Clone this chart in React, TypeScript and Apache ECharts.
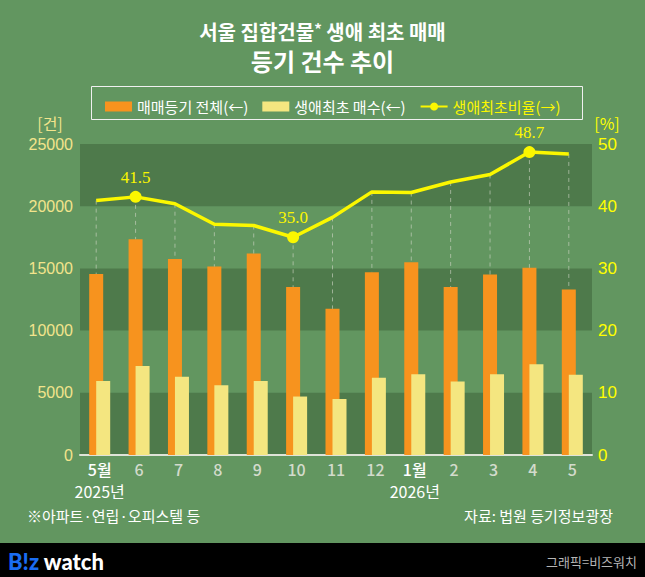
import React, { useEffect, useRef } from "react";
import * as echarts from "echarts";

const categories = ["5월", "6", "7", "8", "9", "10", "11", "12", "1월", "2", "3", "4", "5"];
const yearLabels = ["2025년", "", "", "", "", "", "", "", "2026년", "", "", "", ""];
const totalDeals = [14550, 17350, 15750, 15150, 16200, 13500, 11750, 14700, 15500, 13500, 14500, 15050, 13300];
const firstBuyers = [5950, 7150, 6300, 5600, 5950, 4700, 4500, 6200, 6500, 5900, 6500, 7300, 6450];
const firstRate = [40.9, 41.5, 40.4, 37.1, 36.9, 35.0, 38.2, 42.3, 42.2, 43.9, 45.1, 48.7, 48.4];
const labeledPoints = [1, 5, 11];

const leftMax = 25000;
const leftInterval = 5000;
const rightMax = 50;
const rightInterval = 10;

const seriesNames = ["매매등기 전체(←)", "생애최초 매수(←)", "생애최초비율(→)"];

const FONT = "'Noto Sans CJK KR', 'Noto Sans', sans-serif";
const BG = "#629660";
const DARK = "#4e7a4b";
const ORANGE = "#f7931e";
const CREAM = "#f4e680";
const YELLOW = "#fbf700";

export default function App() {
  const ref = useRef<HTMLDivElement>(null);
  useEffect(() => {
    if (!ref.current) return;
    const chart = echarts.init(ref.current, null, { renderer: "svg" });
    const gridTop = 144;
    const gridBottom = 122;
    chart.setOption({
      animation: false,
      backgroundColor: BG,
      textStyle: { fontFamily: FONT },
      grid: [
        { left: 80, right: 53, top: gridTop, bottom: gridBottom },
        { left: 76.5, right: 56.5, top: gridTop, bottom: gridBottom },
      ],
      legend: {
        left: 100,
        top: 94,
        itemGap: 14,
        itemWidth: 27,
        itemHeight: 10,
        textStyle: { fontSize: 15, color: "#fff", fontFamily: FONT },
        data: [
          { name: seriesNames[0], icon: "rect", textStyle: { color: "#fff" } },
          { name: seriesNames[1], icon: "rect", textStyle: { color: "#fff" } },
          { name: seriesNames[2], textStyle: { color: YELLOW } },
        ],
      },
      xAxis: [
        {
          type: "category",
          gridIndex: 0,
          data: categories,
          axisTick: { show: false },
          axisLine: { lineStyle: { color: "#dfe3d8", width: 2 } },
          axisLabel: {
            margin: 5,
            interval: 0,
            lineHeight: 17,
            fontSize: 16,
            fontFamily: FONT,
            color: (v: string) => (v.indexOf("월") >= 0 ? "#fff" : "#d3dbcc"),
            fontWeight: 500,
          },
          splitLine: { show: false },
        },
        {
          type: "category",
          gridIndex: 1,
          data: categories,
          show: false,
        },
        {
          type: "category",
          gridIndex: 0,
          position: "bottom",
          offset: 25,
          data: categories,
          axisLine: { show: false },
          axisTick: { show: false },
          splitLine: { show: false },
          axisLabel: {
            margin: 2,
            interval: 0,
            lineHeight: 17,
            fontSize: 16,
            color: "#fff",
            fontFamily: FONT,
            formatter: (v: string, i: number) => yearLabels[i],
          },
        },
      ],
      yAxis: [
        {
          type: "value",
          gridIndex: 0,
          min: 0,
          max: leftMax,
          interval: leftInterval,
          axisLine: { show: false },
          axisTick: { show: false },
          splitLine: { show: false },
          splitArea: { show: true, areaStyle: { color: [DARK, "rgba(0,0,0,0)"] } },
          axisLabel: {
            color: "#f2e48c",
            fontSize: 16,
            margin: 7,
            fontFamily: "'Liberation Sans', sans-serif",
            formatter: (v: number) => String(v),
          },
        },
        {
          type: "value",
          gridIndex: 0,
          position: "right",
          min: 0,
          max: rightMax,
          interval: rightInterval,
          axisLine: { show: false },
          axisTick: { show: false },
          splitLine: { show: false },
          axisLabel: { color: "#ffff00", fontSize: 17, margin: 6, fontFamily: "'Liberation Sans', sans-serif" },
        },
        {
          type: "value",
          gridIndex: 1,
          min: 0,
          max: rightMax,
          show: false,
          splitLine: { show: false },
        },
      ],
      series: [
        {
          name: seriesNames[0],
          type: "bar",
          xAxisIndex: 0,
          yAxisIndex: 0,
          data: totalDeals,
          barWidth: 14,
          barGap: "-50%",
          itemStyle: { color: ORANGE },
          z: 2,
        },
        {
          name: seriesNames[1],
          type: "bar",
          xAxisIndex: 0,
          yAxisIndex: 0,
          data: firstBuyers,
          barWidth: 14,
          barGap: "-50%",
          itemStyle: { color: CREAM },
          z: 3,
        },
        {
          type: "custom",
          xAxisIndex: 1,
          yAxisIndex: 2,
          silent: true,
          z: 4,
          encode: { x: 0, y: [1, 2] },
          data: firstRate.map((r, i) => [i, r, (totalDeals[i] * rightMax) / leftMax]),
          renderItem: (params: any, api: any) => {
            const a = api.coord([api.value(0), api.value(1)]);
            const b = api.coord([api.value(0), api.value(2)]);
            return {
              type: "line",
              shape: { x1: a[0], y1: a[1], x2: b[0], y2: b[1] },
              style: { stroke: "rgba(210,215,200,0.6)", lineWidth: 1, lineDash: [4, 4] },
            };
          },
        },
        {
          name: seriesNames[2],
          type: "line",
          xAxisIndex: 1,
          yAxisIndex: 2,
          z: 5,
          symbol: "circle",
          symbolSize: 12,
          showSymbol: true,
          lineStyle: { color: YELLOW, width: 3.5 },
          itemStyle: { color: YELLOW },
          label: {
            color: YELLOW,
            fontSize: 17,
            fontFamily: "'Liberation Serif', 'DejaVu Serif', serif",
            position: "top",
            distance: 5,
            formatter: (p: any) => Number(p.value).toFixed(1),
          },
          data: firstRate.map((v, i) =>
            labeledPoints.includes(i)
              ? { value: v, label: { show: true } }
              : { value: v, symbol: "none", label: { show: false } }
          ),
        },
      ],
      graphic: [
        {
          type: "text",
          left: "center",
          top: 21,
          style: {
            text: "{a|서울 집합건물}{s|*}{a| 생애 최초 매매}",
            rich: {
              a: { fontSize: 20, fontWeight: "bold", fill: "#fff", fontFamily: FONT },
              s: { fontSize: 15, fontWeight: "bold", fill: "#fff", fontFamily: FONT, verticalAlign: "top", padding: [0, 0, 6, 0] },
            },
          },
        },
        {
          type: "text",
          left: "center",
          top: 48,
          style: { text: "등기 건수 추이", fontSize: 24, fontWeight: "bold", fill: "#fff", fontFamily: FONT },
        },
        {
          type: "rect",
          shape: { x: 91.5, y: 86.5, width: 491, height: 33 },
          style: { fill: "none", stroke: "#f0f0f0", lineWidth: 1 },
        },
        {
          type: "text",
          x: 50,
          y: 123,
          style: { text: "[건]", fontSize: 16, fill: "#f2e48c", fontFamily: FONT, textAlign: "center", textVerticalAlign: "middle" },
        },
        {
          type: "text",
          x: 607,
          y: 123,
          style: { text: "[%]", fontSize: 16, fill: "#ffff00", fontFamily: FONT, textAlign: "center", textVerticalAlign: "middle" },
        },
        {
          type: "text",
          x: 27,
          y: 515,
          style: { text: "※아파트·연립·오피스텔 등", fontSize: 15, fill: "#fff", fontFamily: FONT, textVerticalAlign: "middle" },
        },
        {
          type: "text",
          x: 613,
          y: 515,
          style: { text: "자료: 법원 등기정보광장", fontSize: 15, fill: "#fff", fontFamily: FONT, textAlign: "right", textVerticalAlign: "middle" },
        },
        {
          type: "rect",
          shape: { x: 0, y: 543, width: 645, height: 34 },
          style: { fill: "#000" },
        },
        {
          type: "text",
          x: 8,
          y: 561,
          style: {
            text: "{b|B!z}{w| watch}",
            textVerticalAlign: "middle",
            rich: {
              b: { fontSize: 22, fontWeight: 900, fill: "#1a6df2", fontFamily: "Lato, 'Noto Sans', sans-serif" },
              w: { fontSize: 22, fontWeight: 900, fill: "#fff", fontFamily: "Lato, 'Noto Sans', sans-serif" },
            },
          },
        },
        {
          type: "text",
          x: 637,
          y: 561,
          style: { text: "그래픽=비즈워치", fontSize: 13, fill: "#b5b5b5", fontFamily: FONT, textAlign: "right", textVerticalAlign: "middle" },
        },
      ],
    });
    return () => chart.dispose();
  }, []);
  return (
    <div
      ref={ref}
      style={{ position: "fixed", left: 0, top: 0, width: 645, height: 577 }}
    />
  );
}
